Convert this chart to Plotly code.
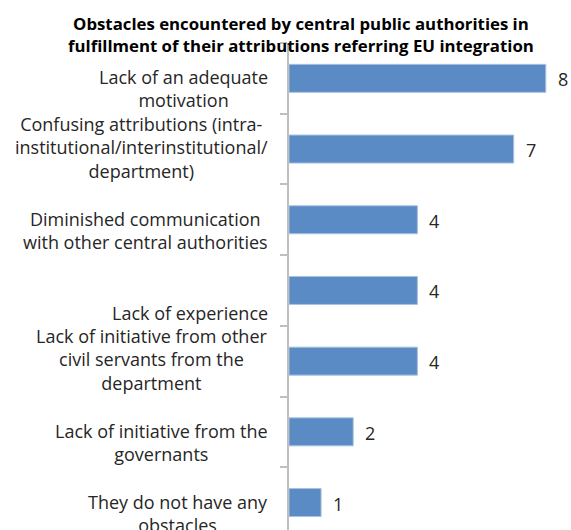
import plotly.graph_objects as go

# Obstacles reported, top to bottom as drawn
categories = [
    "Lack of an adequate motivation",
    "Confusing attributions (intra-institutional/interinstitutional/department)",
    "Diminished communication with other central authorities",
    "Lack of experience",
    "Lack of initiative from other civil servants from the department",
    "Lack of initiative from the governants",
    "They do not have any obstacles",
]
# Wrapped versions of the category labels
label_lines = [
    "Lack of an adequate<br>motivation",
    "Confusing attributions (intra-<br>institutional/interinstitutional/<br>department)",
    "Diminished communication<br>with other central authorities",
    "Lack of experience",
    "Lack of initiative from other<br>civil servants from the<br>department",
    "Lack of initiative from the<br>governants",
    "They do not have any<br>obstacles",
]
counts = [8, 7, 4, 4, 4, 2, 1]

title_text = ("<b>Obstacles encountered by central public authorities in<br>"
              "fulfillment of their attributions referring EU integration</b>")

FONT = "Open Sans"
LABEL_SIZE = 18
W, H = 571, 530
LEFT, TOP = 289, 43
PITCH = 70.7          # pixels per category
UNIT = 32.1           # pixels per count unit
PLOT_W, PLOT_H = W - LEFT, H - TOP

fig = go.Figure()
fig.add_trace(go.Bar(
    x=counts,
    y=categories,
    orientation="h",
    marker=dict(color="#5B8BC5", line=dict(color="#A9C2E0", width=1)),
    hoverinfo="skip",
))

annotations = []
# category labels: centred lines, bottom-aligned in a three-line box
for cat, txt in zip(categories, label_lines):
    annotations.append(dict(
        x=0, xref="paper", y=cat, yref="y",
        text=txt, showarrow=False, align="center",
        xanchor="right", yanchor="bottom",
        xshift=-19, yshift=-(23.5 + 0.7 * LABEL_SIZE),
        font=dict(family=FONT, size=LABEL_SIZE, color="#262626"),
    ))
# value labels beside each bar
for cat, v in zip(categories, counts):
    annotations.append(dict(
        x=v, xref="x", y=cat, yref="y",
        text=str(v), showarrow=False,
        xanchor="left", yanchor="middle", xshift=10, yshift=-1,
        font=dict(family=FONT, size=LABEL_SIZE, color="#262626"),
    ))
# chart heading
annotations.append(dict(
    x=(301 - LEFT) / PLOT_W, xref="paper", xanchor="center",
    y=1 + (TOP - 10) / PLOT_H, yref="paper", yanchor="top",
    text=title_text, showarrow=False, align="center",
    font=dict(family=FONT, size=16.8, color="black"),
))

fig.update_layout(
    width=W, height=H,
    margin=dict(l=LEFT, r=0, t=TOP, b=0),
    paper_bgcolor="white", plot_bgcolor="white",
    showlegend=False,
    bargap=0.604,
    annotations=annotations,
)
fig.update_xaxes(
    visible=False, range=[0, PLOT_W / UNIT], fixedrange=True,
)
fig.update_yaxes(
    type="category", categoryorder="array", categoryarray=categories,
    range=[-0.5 + PLOT_H / PITCH, -0.5],
    showticklabels=False, showgrid=False, zeroline=False,
    showline=True, linecolor="#BFBFBF", linewidth=2,
    ticks="outside", tickson="boundaries", ticklen=7,
    tickcolor="#BFBFBF", tickwidth=1.5,
)

fig.write_html("out.html")
